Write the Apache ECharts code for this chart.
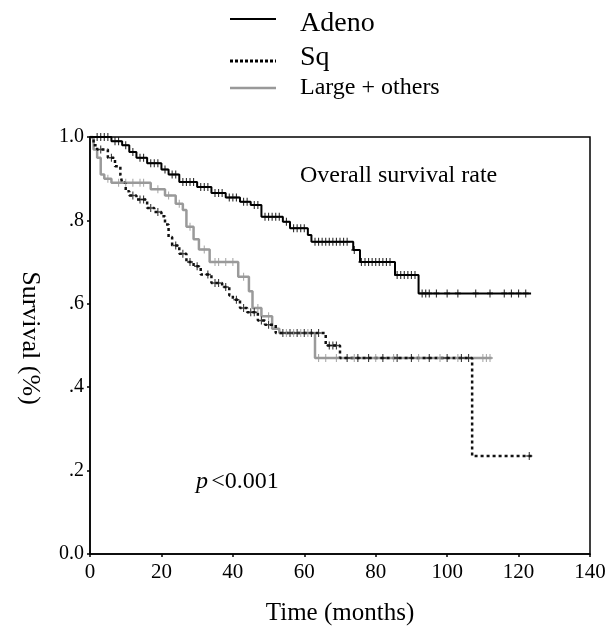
<!DOCTYPE html>
<html>
<head>
<meta charset="utf-8">
<script src="https://cdn.jsdelivr.net/npm/echarts@6/dist/echarts.min.js"></script>
<style>html,body{margin:0;padding:0;background:#fff}#c{width:610px;height:630px}</style>
</head>
<body>
<div id="c"></div>
<script>
// Kaplan-Meier step points [time (months), survival]
const adenoSteps = [[0,1.0],[6,0.99],[9,0.98],[11,0.964],[13,0.95],[16,0.937],[20,0.922],[22,0.91],[25,0.892],[30,0.88],[34,0.866],[38,0.855],[42,0.845],[45,0.837],[48,0.809],[54,0.797],[56,0.781],[61,0.765],[62,0.749],[73.7,0.729],[75.6,0.70],[85.4,0.669],[92,0.625],[123.5,0.625]];
const sqSteps = [[0,1.0],[1,0.98],[2,0.97],[5,0.95],[7,0.93],[8.5,0.91],[9,0.89],[10,0.87],[11,0.86],[13,0.85],[16,0.83],[18,0.82],[20,0.81],[21,0.79],[22,0.76],[23,0.74],[25,0.72],[27,0.70],[29,0.69],[31,0.67],[34,0.65],[37,0.64],[39,0.62],[40,0.61],[42,0.59],[44,0.58],[47,0.56],[49,0.55],[52,0.53],[66,0.50],[70,0.47],[107,0.235],[124,0.235]];
const largeSteps = [[0,1.0],[1,0.97],[2,0.95],[3,0.91],[4,0.90],[6,0.89],[17,0.875],[21,0.86],[24,0.84],[26,0.825],[27,0.785],[29,0.755],[30.5,0.73],[33.5,0.70],[41.5,0.665],[44.5,0.63],[45.5,0.59],[48,0.57],[51,0.54],[53,0.53],[63,0.47],[112.5,0.47]];
// censoring times (months)
const adenoCensor = [2,3,4,5,7,8,10,12,14,15,17,18,19,21,23,24,26,27,28,29,31,32,33,35,36,37,39,40,41,43,44,46,47,49,50,51,52,53,55,57,58,59,60,63,64,65,66,67,68,69,70,71,72,74,76,77,78,79,80,81,82,83,84,86,87,88,89,90,91,93,94,95,97,100,103,108,112,116,118,120,122];
const sqCensor = [3,6,12,14,15,17,19,24,26,28,30,33,35,36,38,41,43,45,46,48,50,54,56,58,60,62,64,67,68,69,72,75,78,82,86,90,95,100,104,106,123];
const largeCensor = [5,8,10,12,14,15,19,22,25,28,32,35,36,38,40,43,47,50,55,57,59,61,64,66,69,74,80,85,92,98,103,110,111,112];
const yTickLabels = {0:'0.0',2:'.2',4:'.4',6:'.6',8:'.8',10:'1.0'};

function valueAt(steps, t){let v=steps[0][1];for(const s of steps){if(s[0]<=t)v=s[1];else break;}return v;}
function censorData(steps, times){return times.map(t=>[t, valueAt(steps,t)]);}

const FONT = '"Liberation Serif","DejaVu Serif",serif';
const plus = 'path://M5,0L5,10M0,5L10,5';
const chart = echarts.init(document.getElementById('c'), null, {renderer:'canvas'});
function censorSeries(name, data, color){
  return {name:name+'-c', type:'scatter', data:data, symbol:plus, symbolSize:[6,8], silent:true,
    itemStyle:{color:'none', borderColor:color, borderWidth:1.3}, z:4};
}
chart.setOption({
  animation:false,
  textStyle:{fontFamily:FONT},
  grid:{left:90, right:20, top:137, bottom:76, outerBoundsMode:'none', containLabel:false,
    show:true, borderColor:'#000', borderWidth:1.5, backgroundColor:'transparent'},
  xAxis:{type:'value', min:0, max:140, interval:20,
    name:'Time (months)', nameLocation:'middle', nameGap:47,
    nameTextStyle:{fontFamily:FONT, fontSize:25, color:'#000'},
    axisLine:{show:true, lineStyle:{color:'#000', width:1.5}},
    axisTick:{show:true, inside:false, length:3, lineStyle:{color:'#000', width:1.5}},
    axisLabel:{fontFamily:FONT, fontSize:21, color:'#000', margin:8},
    splitLine:{show:false}},
  yAxis:{type:'value', min:0, max:1, interval:0.2,
    axisLine:{show:true, lineStyle:{color:'#000', width:1.5}},
    axisTick:{show:true, length:3, lineStyle:{color:'#000', width:1.5}},
    axisLabel:{fontFamily:FONT, fontSize:20, color:'#000', margin:6,
      formatter:v=>yTickLabels[Math.round(v*10)]},
    splitLine:{show:false}},
  series:[
    {name:'Large + others', type:'line', step:'end', data:largeSteps, showSymbol:false,
      lineStyle:{color:'#9a9a9a', width:2.5}, z:2},
    {name:'Sq', type:'line', step:'end', data:sqSteps, showSymbol:false,
      lineStyle:{color:'#111', width:2.5, type:[3,3]}, z:3},
    {name:'Adeno', type:'line', step:'end', data:adenoSteps, showSymbol:false,
      lineStyle:{color:'#000', width:2}, z:3},
    censorSeries('Large + others', censorData(largeSteps, largeCensor), '#9a9a9a'),
    censorSeries('Sq', censorData(sqSteps, sqCensor), '#111'),
    censorSeries('Adeno', censorData(adenoSteps, adenoCensor), '#000')
  ],
  graphic:[
    {type:'line', shape:{x1:230,y1:19,x2:276,y2:19}, style:{stroke:'#000', lineWidth:2}},
    {type:'text', left:300, top:10, style:{text:'Adeno', font:'28px '+FONT, fill:'#000'}},
    {type:'line', shape:{x1:230,y1:61,x2:276,y2:61}, style:{stroke:'#000', lineWidth:3, lineDash:[3,2]}},
    {type:'text', left:300, top:44, style:{text:'Sq', font:'28px '+FONT, fill:'#000'}},
    {type:'line', shape:{x1:230,y1:88,x2:276,y2:88}, style:{stroke:'#999', lineWidth:2.5}},
    {type:'text', left:300, top:76, style:{text:'Large + others', font:'24px '+FONT, fill:'#000'}},
    {type:'text', left:300, top:164, style:{text:'Overall survival rate', font:'24px '+FONT, fill:'#000'}},
    {type:'text', left:196, top:470, style:{rich:{p:{font:'italic 24px '+FONT, fill:'#000'}, r:{font:'24px '+FONT, fill:'#000'}}, text:'{p|p} {r|<0.001}'}},
    {type:'text', x:30, y:338, rotation:-Math.PI/2,
      style:{text:'Survival (%)', font:'26px '+FONT, fill:'#000', align:'center', verticalAlign:'middle'}}
  ]
});
</script>
</body>
</html>
